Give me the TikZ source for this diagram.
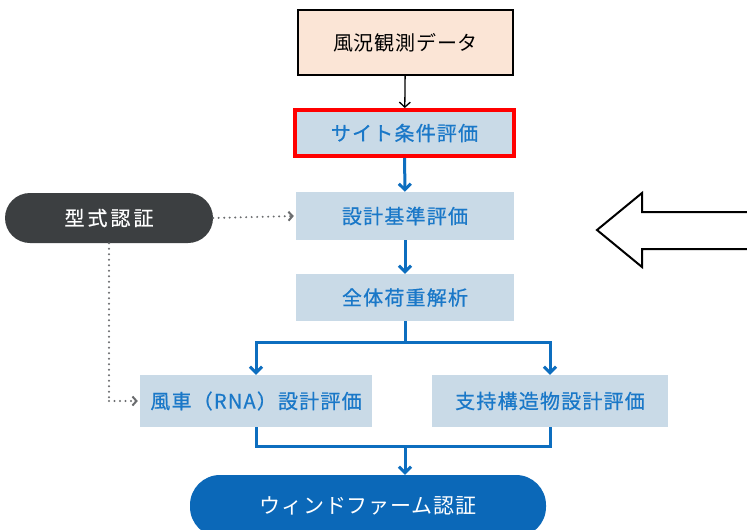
\documentclass[tikz,border=0pt]{standalone}
\usepackage{fontspec}
\newfontfamily\jp[LetterSpace=6,FakeBold=0.6]{Noto Sans CJK JP}
\newfontfamily\jpn[LetterSpace=4]{Noto Sans CJK JP}
\newfontfamily\jpsp[LetterSpace=15,FakeBold=0.6]{Noto Sans CJK JP}
\usetikzlibrary{arrows.meta}
\definecolor{peach}{HTML}{FBE5D6}
\definecolor{boxfill}{HTML}{C9DAE7}
\definecolor{bluetext}{HTML}{1A78C8}
\definecolor{blueline}{HTML}{0D6EBF}
\definecolor{pillblue}{HTML}{0B68B8}
\definecolor{darkpill}{HTML}{3C3F41}
\definecolor{dotgray}{HTML}{6A6C6E}
\begin{document}
\begin{tikzpicture}[x=1pt,y=-1pt,
  txt/.style={font=\jp\fontsize{20}{24}\selectfont},
  stepbox/.style={txt,fill=boxfill,text=bluetext,inner sep=0pt,minimum height=48pt},
  bluearrow/.style={draw=blueline,line width=3pt,-{Straight Barb[length=6pt,width=12pt,line width=3pt]}},
  blueline/.style={draw=blueline,line width=3pt},
  dotline/.style={draw=dotgray,line width=2.2pt,line cap=round,dash pattern=on 0pt off 5.5pt},
  dotarrow/.style={dotline,-{Straight Barb[length=4pt,width=9pt,line width=2pt,sep=2pt]}}]
\useasboundingbox (0,0) rectangle (747,530);
\fill[white] (0,0) rectangle (747,530);
% nodes
\node[font=\jpn\fontsize{20}{24}\selectfont,draw=black,line width=1.3pt,fill=peach,minimum width=215pt,minimum height=65pt,inner sep=0pt] (data) at (405.5,42.5) {風況観測データ};
\node[stepbox,draw=red,line width=4pt,minimum width=219pt,minimum height=46pt] (site) at (404.5,133) {サイト条件評価};
\node[stepbox,minimum width=218pt] (kijun) at (405,216) {設計基準評価};
\node[stepbox,minimum width=218pt,minimum height=47pt] (zentai) at (405,297.5) {全体荷重解析};
\node[stepbox,minimum width=232pt,minimum height=52pt] (rna) at (256,401) {風車（RNA）設計評価};
\node[stepbox,minimum width=236pt,minimum height=52pt] (shiji) at (550,401) {支持構造物設計評価};
\node[font=\jpn\fontsize{21}{24}\selectfont,fill=pillblue,text=white,rounded corners=30pt,minimum width=356pt,minimum height=62pt,inner sep=0pt] (wf) at (368,506) {ウィンドファーム認証};
\node[font=\jpsp\fontsize{20}{24}\selectfont,fill=darkpill,text=white,rounded corners=25pt,minimum width=208pt,minimum height=50pt,inner sep=0pt] (kata) at (109,218) {型式認証};
% coordinates
\coordinate (split) at (405,342);
\coordinate (merge) at (405,446);
\coordinate (bend) at (kata.south |- rna.west);
% connectors
\draw[line width=1.3pt,-{Straight Barb[length=5pt,width=11pt,line width=1.3pt]}] (data) -- (site);
\draw[bluearrow] (site) -- (kijun);
\draw[bluearrow] (kijun) -- (zentai);
\draw[blueline] (zentai) -- (split);
\draw[bluearrow] (split) -| (rna.north);
\draw[bluearrow] (split) -| (shiji.north);
\draw[blueline] (rna.south) |- (merge) -| (shiji.south);
\draw[bluearrow] (merge) -- (merge |- wf.north);
\draw[dotarrow] (kata.east) -- (kijun.west);
\draw[dotline] (kata.south) -- (bend);
\draw[dotarrow] (bend) -- (rna.west);
% big outline arrow
\draw[line width=2pt,line join=miter] (750,212) -- (642,212) -- (642,193) -- (597,230) -- (642,267) -- (642,249) -- (750,249);
\end{tikzpicture}
\end{document}
